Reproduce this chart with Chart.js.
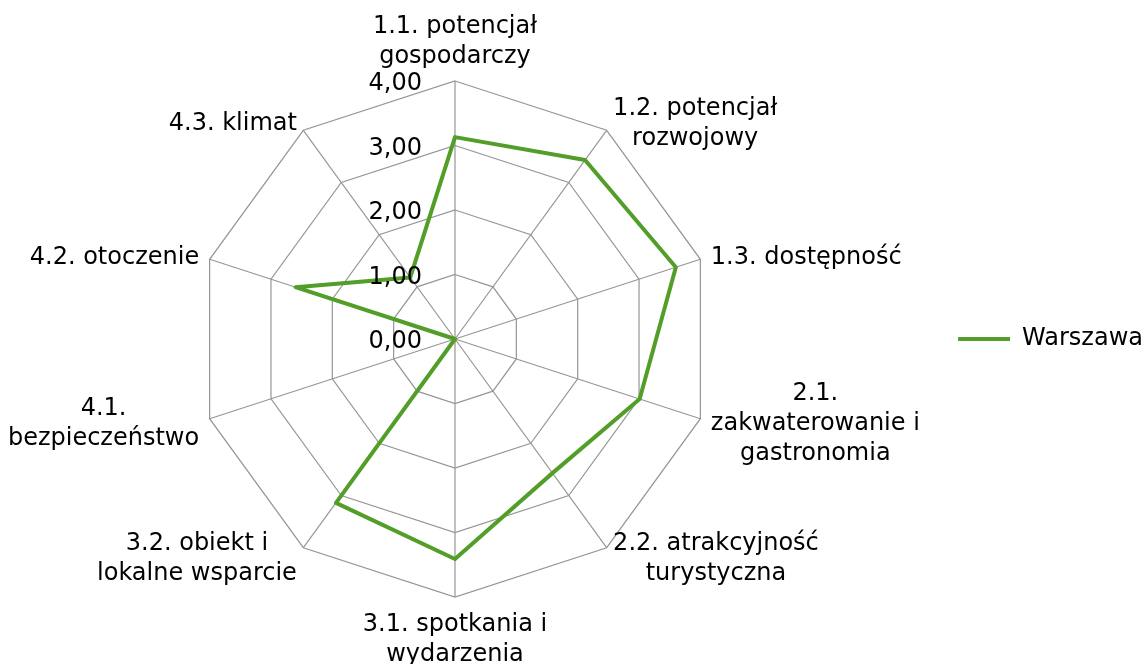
<!DOCTYPE html>
<html>
<head>
<meta charset="utf-8">
<script src="https://cdn.jsdelivr.net/npm/chart.js@4/dist/chart.umd.min.js"></script>
<style>
  html, body { margin: 0; padding: 0; background: #fff; }
  #wrap { width: 1147px; height: 664px; position: relative; }
</style>
</head>
<body>
<div id="wrap"><canvas id="radarChart"></canvas></div>
<script>
const categories = [
  ['1.1. potencjał', 'gospodarczy'],
  ['1.2. potencjał', 'rozwojowy'],
  ['1.3. dostępność'],
  ['2.1.', 'zakwaterowanie i', 'gastronomia'],
  ['2.2. atrakcyjność', 'turystyczna'],
  ['3.1. spotkania i', 'wydarzenia'],
  ['3.2. obiekt i', 'lokalne wsparcie'],
  ['4.1.', 'bezpieczeństwo'],
  ['4.2. otoczenie'],
  ['4.3. klimat'],
];
const seriesName = 'Warszawa';
const warszawa = [3.13, 3.43, 3.60, 3.01, 2.57, 3.41, 3.14, 0, 2.60, 1.18];
const tickValues = [0, 1, 2, 3, 4];
const tickLabels = ['0,00', '1,00', '2,00', '3,00', '4,00'];

const FONT = '"DejaVu Sans", Verdana, sans-serif';
const FONT_SIZE = 24;
Chart.defaults.font.family = FONT;
Chart.defaults.color = '#000';

// axis names (lines centred in their block) and value labels left of the top axis
const radarText = {
  id: 'radarText',
  afterDatasetsDraw(chart) {
    const s = chart.scales.r;
    const ctx = chart.ctx;
    ctx.save();
    ctx.font = FONT_SIZE + 'px ' + FONT;
    ctx.fillStyle = '#000';
    ctx.textBaseline = 'middle';

    ctx.textAlign = 'right';
    tickValues.forEach((v, i) => {
      const y = s.yCenter - s.getDistanceFromCenterForValue(v) + 3;
      ctx.fillText(tickLabels[i], s.xCenter - 33, y);
    });

    const lh = 30;
    ctx.textAlign = 'center';
    chart.data.labels.forEach((lines, i) => {
      const p = s.getPointPosition(i, s.drawingArea + 11);
      const w = Math.max(...lines.map(t => ctx.measureText(t).width));
      const h = lines.length * lh;
      const c = Math.cos(p.angle), sn = Math.sin(p.angle);
      let cx = p.x, cy = p.y + 2;
      if (c > 0.01) cx = p.x + w / 2;
      else if (c < -0.01) cx = p.x - w / 2;
      else cy += sn < 0 ? -h / 2 : h / 2;
      lines.forEach((t, k) => ctx.fillText(t, cx, cy - h / 2 + lh * (k + 0.5)));
    });
    ctx.restore();
  }
};

new Chart(document.getElementById('radarChart'), {
  type: 'radar',
  data: {
    labels: categories,
    datasets: [{
      label: seriesName,
      data: warszawa,
      borderColor: '#529e28',
      backgroundColor: '#529e28',
      borderWidth: 4,
      borderJoinStyle: 'round',
      borderCapStyle: 'round',
      fill: false,
      pointRadius: 0,
      pointHoverRadius: 0,
    }],
  },
  options: {
    responsive: true, maintainAspectRatio: false,
    animation: false,
    layout: { padding: { left: 197, top: 81, bottom: 67, right: -6 } },
    plugins: {
      tooltip: { enabled: false },
      legend: {
        position: 'right',
        labels: {
          usePointStyle: true, pointStyle: 'line', pointStyleWidth: 52,
          padding: 10, color: '#000', font: { size: FONT_SIZE },
        },
      },
    },
    scales: {
      r: {
        min: 0, max: 4,
        ticks: { stepSize: 1, display: false },
        grid: { color: '#969696', lineWidth: 1.2 },
        angleLines: { color: '#969696', lineWidth: 1.2 },
        pointLabels: { display: false },
        // keep the web on the left of the wide chart area
        afterFit(scale) { scale.xCenter = scale.left + scale.drawingArea; },
      },
    },
  },
  plugins: [radarText],
});
</script>
</body>
</html>
